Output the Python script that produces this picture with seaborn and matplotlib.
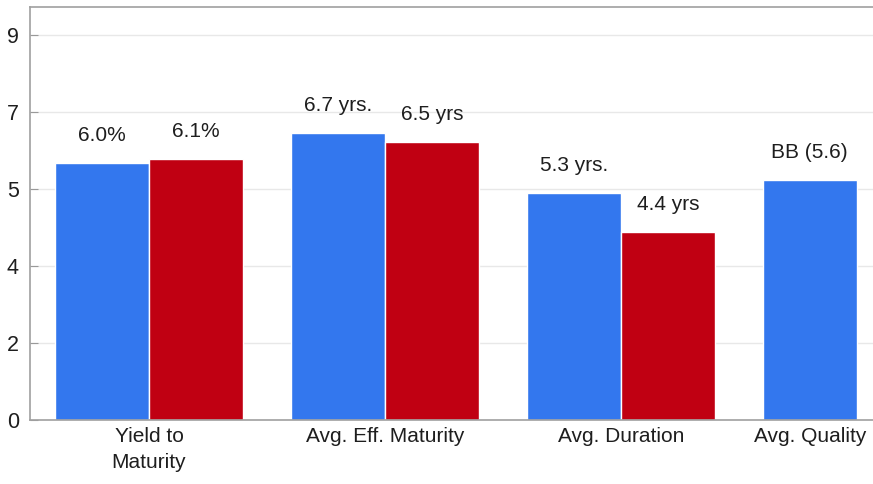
import seaborn as sns
import matplotlib.pyplot as plt
import pandas as pd
import numpy as np

# chart values
categories = ["Yield to\nMaturity", "Avg. Eff. Maturity", "Avg. Duration", "Avg. Quality"]
fund_values = [6.0, 6.7, 5.3, 5.6]
bench_values = [6.1, 6.5, 4.4, np.nan]
fund_labels = ["6.0%", "6.7 yrs.", "5.3 yrs.", "BB (5.6)"]
bench_labels = ["6.1%", "6.5 yrs", "4.4 yrs", ""]
ytick_values = [0, 1.8, 3.6, 5.4, 7.2, 9.0]
ytick_labels = ["0", "2", "4", "5", "7", "9"]

df = pd.DataFrame({
    "category": pd.Categorical(categories * 2, categories=categories),
    "value": fund_values + bench_values,
    "series": ["Fund"] * 4 + ["Benchmark"] * 4,
    "label": fund_labels + bench_labels,
}).dropna()

sns.set_style("white")
plt.rcParams['font.family'] = ['Liberation Sans', 'DejaVu Sans']

fig = plt.figure(figsize=(8.73, 4.84), dpi=100)
ax = fig.add_axes([30 / 873, 1 - 420 / 484, 1 - 30 / 873, 413 / 484])

sns.barplot(data=df, x="category", y="value", hue="series",
            hue_order=["Fund", "Benchmark"],
            palette=["#3377EE", "#C00012"], saturation=1, width=0.8,
            edgecolor="white", linewidth=1, legend=False, ax=ax)

# value labels above the bars
for container, series in zip(ax.containers, ["Fund", "Benchmark"]):
    labels = df.loc[df["series"] == series, "label"].tolist()
    ax.bar_label(container, labels=labels, padding=13, fontsize=15, color="#1e1e1e")

ax.set_xlim(-0.504, 3.068)
ax.set_ylim(0, 9.65)
ax.set_yticks(ytick_values)
ax.set_yticklabels(ytick_labels, fontsize=15.5, color="#1e1e1e")
ax.set_xticks([0, 1, 2, 2.8])
ax.set_xticklabels(categories, fontsize=15, color="#1e1e1e", linespacing=1.45)
ax.set_xlabel("")
ax.set_ylabel("")

ax.yaxis.grid(True, color="#e8e8e8", linewidth=1)
ax.set_axisbelow(True)
ax.tick_params(axis="y", direction="in", length=6, color="#999999", pad=8, left=True)
ax.tick_params(axis="x", length=0, pad=5)

for side in ["left", "bottom", "top"]:
    ax.spines[side].set_color("#a0a0a0")
    ax.spines[side].set_linewidth(1.2)
ax.spines["right"].set_visible(False)

fig.savefig("out.png", dpi=100)
